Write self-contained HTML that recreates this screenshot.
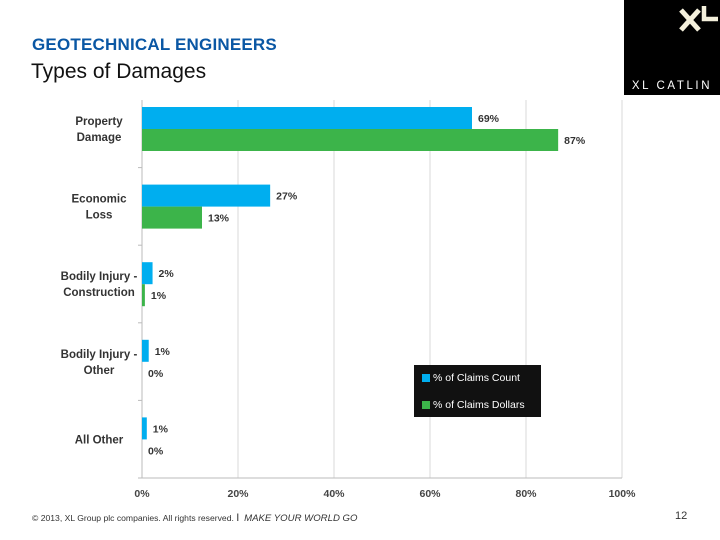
<!DOCTYPE html>
<html><head><meta charset="utf-8"><style>
body{margin:0;width:720px;height:540px;background:#fff;position:relative;overflow:hidden;font-family:"Liberation Sans",sans-serif}
.t1{position:absolute;left:32px;top:35px;font-size:17px;font-weight:bold;color:#0a57a4;letter-spacing:0.2px}
.t2{position:absolute;left:31px;top:60px;font-size:21px;color:#111}
.logo{position:absolute;left:624px;top:0;width:96px;height:95px;background:#000}
.foot{position:absolute;top:511px;font-size:10px;color:#333}
</style></head><body>
<div class="t1">GEOTECHNICAL ENGINEERS</div>
<div class="t2">Types of Damages</div>
<div class="logo">
<svg width="96" height="95"><path d="M57 10 L75 30 M75 10 L57 30" stroke="#f4f0dc" stroke-width="5"/><path d="M80 6 V19 H94" stroke="#f4f0dc" stroke-width="4.5" fill="none"/>
<text x="48" y="89" text-anchor="middle" fill="#fff" font-size="11.5" letter-spacing="2.6" font-family="Liberation Sans">XL CATLIN</text></svg></div>
<svg id="chart" width="720" height="540" style="position:absolute;left:0;top:0"></svg>
<div class="foot" style="left:32px;font-size:8.6px;top:512px">© 2013, XL Group plc companies. All rights reserved. <span style="font-size:11px">I</span> &nbsp;<span style="font-size:9.6px;font-style:italic">MAKE YOUR WORLD GO</span></div>
<div class="foot" style="left:675px;font-size:11px;top:510px">12</div>
<script>
const categories=[["Property","Damage"],["Economic","Loss"],["Bodily Injury -","Construction"],["Bodily Injury -","Other"],["All Other"]];
const countValues=[68.75,26.7,2.2,1.4,1.0];
const dollarValues=[86.7,12.5,0.6,0,0];
const xTicks=[0,20,40,60,80,100];
const seriesNames=["% of Claims Count","% of Claims Dollars"];
const NS="http://www.w3.org/2000/svg";
const svg=document.getElementById('chart');
const x0=142,x1=622,yTop=90,yBot=478;
const xs=v=>x0+(x1-x0)*v/100;
const band=(yBot-yTop)/categories.length;
function mk(t,a,txt){const e=document.createElementNS(NS,t);for(const k in a)e.setAttribute(k,a[k]);if(txt!==undefined)e.textContent=txt;svg.appendChild(e);return e;}
xTicks.forEach(t=>{
 const g=mk('line',{x1:xs(t),x2:xs(t),y1:yTop+10,y2:yBot,stroke:t===0?'#bbb':'#d9d9d9','stroke-width':1});
 
 
 const l=mk('text',{x:xs(t),y:497,'text-anchor':'middle','font-size':10.5,fill:'#444','font-weight':'bold'},t+'%');
 
 
});
const ax=mk('line',{x1:x0-4,x2:x1,y1:yBot,y2:yBot,stroke:'#bbb'});


for(let i=1;i<categories.length;i++){const tk=mk('line',{x1:x0-4,x2:x0,y1:yTop+band*i,y2:yTop+band*i,stroke:'#bbb'});
 
 }
const cols=['#00aeef','#3cb44a'];
categories.forEach((c,i)=>{
 const by=yTop+band*i+17;
 const cy=by+22;
 c.forEach((ln,j)=>{const t=mk('text',{x:99,y:cy-(c.length-1)*8+j*16+4,'text-anchor':'middle','font-size':11.5,'font-weight':'bold',fill:'#333'},ln);
  
  });
 [countValues[i],dollarValues[i]].forEach((v,s)=>{
  const y=by+s*22;
  const r=mk('rect',{x:x0,y:y,width:Math.max(xs(v)-x0,0),height:22,fill:cols[s]});
  
  
  const lb=mk('text',{x:xs(v)+6,y:y+15,'font-size':10.5,'font-weight':'bold',fill:'#333'},Math.round(v)+'%');
  
  
 });
});
const lg=mk('rect',{x:414,y:365,width:127,height:52,fill:'#111'});


seriesNames.forEach((n,s)=>{
 const sw=mk('rect',{x:422,y:374+s*27,width:8,height:8,fill:cols[s]});
 
 
 const t=mk('text',{x:433,y:381+s*27,'font-size':10.5,fill:'#fff'},n);
 
 
});
</script>
</body></html>
